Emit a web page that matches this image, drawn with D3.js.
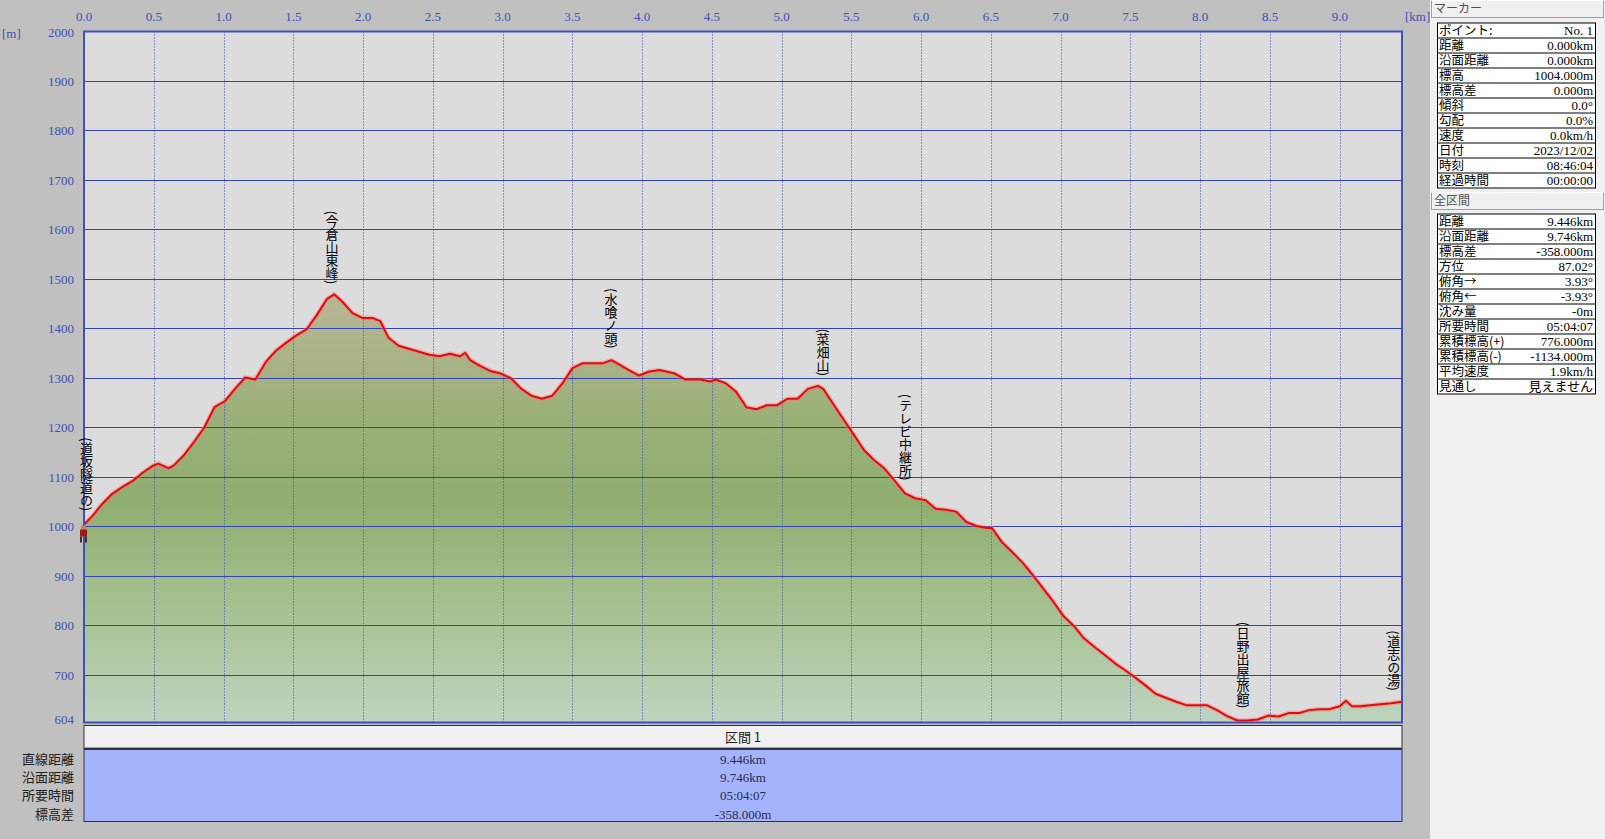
<!DOCTYPE html>
<html>
<head>
<meta charset="utf-8">
<script src="https://cdn.jsdelivr.net/npm/d3@7"></script>
<style>
  body { margin: 0; background: #c0c0c0; overflow: hidden; }
  text { font-family: "Liberation Serif", "Noto Sans CJK JP", serif; }
  .jp { font-family: "Noto Sans CJK JP", sans-serif; }
</style>
</head>
<body>
<script>
// elevation profile (km, m)
const dist = [0.000, 0.056, 0.129, 0.202, 0.276, 0.349, 0.422, 0.495, 0.532, 0.606, 0.642, 0.716, 0.789, 0.862, 0.935,
  1.009, 1.082, 1.155, 1.228, 1.302, 1.375, 1.448, 1.522, 1.595, 1.668, 1.742, 1.793, 1.852, 1.925, 1.998,
  2.071, 2.123, 2.181, 2.255, 2.328, 2.401, 2.475, 2.548, 2.622, 2.695, 2.732, 2.768, 2.842, 2.915, 2.988,
  3.062, 3.135, 3.208, 3.281, 3.355, 3.428, 3.501, 3.575, 3.648, 3.721, 3.780, 3.831, 3.905, 3.978,
  4.051, 4.125, 4.235, 4.308, 4.418, 4.491, 4.528, 4.601, 4.674, 4.748, 4.821, 4.894, 4.968,
  5.041, 5.114, 5.188, 5.261, 5.298, 5.371, 5.444, 5.518, 5.591, 5.664, 5.737, 5.811, 5.884, 5.957,
  6.031, 6.104, 6.177, 6.251, 6.324, 6.397, 6.471, 6.507, 6.580, 6.654, 6.727, 6.800, 6.874, 6.947,
  7.020, 7.094, 7.167, 7.240, 7.314, 7.387, 7.460, 7.534, 7.607, 7.680, 7.753, 7.827, 7.900, 7.973,
  8.047, 8.120, 8.193, 8.267, 8.340, 8.413, 8.487, 8.560, 8.633, 8.707, 8.780, 8.853, 8.927,
  9.000, 9.044, 9.088, 9.147, 9.220, 9.293, 9.367, 9.446];
const elev = [1004, 1020, 1045, 1066, 1080, 1092, 1109, 1123, 1127, 1118, 1123, 1144, 1171, 1200, 1241,
  1253, 1278, 1301, 1297, 1332, 1355, 1371, 1386, 1398, 1427, 1460, 1469, 1454, 1431, 1421,
  1421, 1415, 1382, 1365, 1359, 1353, 1347, 1344, 1349, 1344, 1351, 1336, 1324, 1314, 1309,
  1299, 1278, 1264, 1258, 1264, 1289, 1320, 1330, 1330, 1330, 1336, 1328, 1316, 1305,
  1313, 1316, 1309, 1297, 1297, 1293, 1297, 1289, 1272, 1241, 1237, 1245, 1245,
  1258, 1258, 1278, 1284, 1278, 1247, 1216, 1185, 1154, 1134, 1117, 1092, 1067, 1057,
  1053, 1036, 1034, 1030, 1009, 1001, 997, 997, 968, 948, 927, 902, 875, 848,
  819, 799, 774, 757, 741, 724, 710, 695, 679, 662, 654, 646, 639, 639,
  639, 629, 617, 608, 608, 610, 618, 616, 623, 623, 629, 631, 631,
  637, 648, 637, 637, 639, 641, 643, 646];

const xTicks = [0, 0.5, 1, 1.5, 2, 2.5, 3, 3.5, 4, 4.5, 5, 5.5, 6, 6.5, 7, 7.5, 8, 8.5, 9];
const yTicks = [2000, 1900, 1800, 1700, 1600, 1500, 1400, 1300, 1200, 1100, 1000, 900, 800, 700, 604];

const wpNames = ['(道坂隧道の)', '(今倉山東峰)', '(水喰ノ頭)', '(菜畑山)', '(テレビ中継所)', '(日野出屋旅館)', '(道志の湯)'];
const wpKm = [0.01, 1.77, 3.77, 5.29, 5.88, 8.30, 9.38];

const markerLabels = ['ポイント:', '距離', '沿面距離', '標高', '標高差', '傾斜', '勾配', '速度', '日付', '時刻', '経過時間'];
const markerValues = ['No. 1', '0.000km', '0.000km', '1004.000m', '0.000m', '0.0°', '0.0%', '0.0km/h', '2023/12/02', '08:46:04', '00:00:00'];
const totalLabels = ['距離', '沿面距離', '標高差', '方位', '俯角→', '俯角←', '沈み量', '所要時間', '累積標高(+)', '累積標高(-)', '平均速度', '見通し'];
const totalValues = ['9.446km', '9.746km', '-358.000m', '87.02°', '3.93°', '-3.93°', '-0m', '05:04:07', '776.000m', '-1134.000m', '1.9km/h', '見えません'];

const sectionName = '区間 1';
const sectionLabels = ['直線距離', '沿面距離', '所要時間', '標高差'];
const sectionValues = ['9.446km', '9.746km', '05:04:07', '-358.000m'];

function draw() {
  const W = 1605, H = 839;
  const blue = '#3444b4', tickBlue = '#3f51b5';
  const svg = d3.select('body').append('svg').attr('width', W).attr('height', H);

  const left = 84, right = 1402, top = 31.5, bottom = 722.5;
  const x = d3.scaleLinear().domain([0, 9.446]).range([left, right]);
  const y = d3.scaleLinear().domain([604, 2000]).range([bottom, top]);

  // plot background
  svg.append('rect').attr('x', left).attr('y', top).attr('width', right - left).attr('height', bottom - top)
    .attr('fill', '#dcdcdc');

  // gradient for the area
  const grad = svg.append('defs').append('linearGradient').attr('id', 'g')
    .attr('gradientUnits', 'userSpaceOnUse').attr('x1', 0).attr('x2', 0)
    .attr('y1', y(1500)).attr('y2', y(604));
  [[0, '#bcb898'], [0.3, '#9cb07a'], [0.5, '#8fae70'], [0.75, '#a6c292'], [1, '#bed4bf']]
    .forEach(s => grad.append('stop').attr('offset', s[0]).attr('stop-color', s[1]));

  const pts = dist.map((d, i) => [d, elev[i]]);
  svg.append('path').datum(pts)
    .attr('d', d3.area().x(d => x(d[0])).y0(bottom).y1(d => y(d[1])))
    .attr('fill', 'url(#g)');

  // grid
  svg.selectAll('.hg').data(yTicks.filter(t => t !== 604 && t !== 2000)).enter().append('line')
    .attr('x1', left).attr('x2', right).attr('y1', d => Math.round(y(d)) + 0.5).attr('y2', d => Math.round(y(d)) + 0.5)
    .attr('stroke', blue).attr('stroke-width', 1);
  svg.selectAll('.vg').data(xTicks.filter(t => t > 0)).enter().append('line')
    .attr('y1', top).attr('y2', bottom).attr('x1', d => Math.round(x(d)) + 0.5).attr('x2', d => Math.round(x(d)) + 0.5)
    .attr('stroke', blue).attr('stroke-width', 1).attr('stroke-dasharray', '1,2');

  // profile line
  const line = d3.line().x(d => x(d[0])).y(d => y(d[1]));
  svg.append('path').datum(pts).attr('d', line).attr('fill', 'none')
    .attr('stroke', '#ff7070').attr('stroke-opacity', 0.45).attr('stroke-width', 4.5).attr('stroke-linejoin', 'round');
  svg.append('path').datum(pts).attr('d', line).attr('fill', 'none')
    .attr('stroke', '#e00c0c').attr('stroke-width', 2).attr('stroke-linejoin', 'round');

  // border
  svg.append('rect').attr('x', left).attr('y', top).attr('width', right - left).attr('height', bottom - top)
    .attr('fill', 'none').attr('stroke', '#4050b8').attr('stroke-width', 2);

  // axes labels
  svg.selectAll('.xt').data(xTicks).enter().append('text')
    .attr('x', d => x(d)).attr('y', 21).attr('text-anchor', 'middle')
    .attr('font-size', 13).attr('fill', tickBlue).text(d => d.toFixed(1));
  svg.selectAll('.yt').data(yTicks).enter().append('text')
    .attr('x', 74).attr('y', d => d === 604 ? y(d) + 1 : y(d) + 5).attr('text-anchor', 'end')
    .attr('font-size', 13).attr('fill', tickBlue).text(d => d);
  svg.append('text').attr('x', 2).attr('y', 38).attr('font-size', 13).attr('fill', tickBlue).text('[m]');
  svg.append('text').attr('x', 1405).attr('y', 21).attr('font-size', 13).attr('fill', tickBlue).text('[km]');

  // waypoint labels (vertical)
  const interp = km => {
    const i = d3.bisector(d => d).left(dist, km);
    if (i <= 0) return elev[0];
    const t = (km - dist[i - 1]) / (dist[i] - dist[i - 1]);
    return elev[i - 1] + t * (elev[i] - elev[i - 1]);
  };
  svg.selectAll('.wp').data(wpNames).enter().append('text')
    .attr('class', 'jp')
    .attr('x', (d, i) => x(wpKm[i]) + 1)
    .attr('y', (d, i) => y(interp(wpKm[i])) - 12)
    .attr('text-anchor', 'end')
    .style('writing-mode', 'vertical-rl')
    .attr('font-size', 13).attr('fill', '#000').text(d => d);

  // hiker marker at start point
  const hx = x(dist[0]), hy = y(elev[0]);
  const hiker = svg.append('g').attr('transform', `translate(${hx},${hy})`);
  hiker.append('rect').attr('x', -3).attr('y', 1).attr('width', 5).attr('height', 4).attr('fill', '#d08050');
  hiker.append('rect').attr('x', -4).attr('y', 5).attr('width', 7).attr('height', 7).attr('fill', '#a01818');
  hiker.append('rect').attr('x', -4).attr('y', 12).attr('width', 2).attr('height', 6).attr('fill', '#403020');
  hiker.append('rect').attr('x', 1).attr('y', 12).attr('width', 2).attr('height', 6).attr('fill', '#403020');

  // section table at the bottom
  svg.append('rect').attr('x', left).attr('y', 725.5).attr('width', right - left).attr('height', 23)
    .attr('fill', '#f0f0f0').attr('stroke', '#303040').attr('stroke-width', 1);
  svg.append('line').attr('x1', left + 1).attr('x2', right - 1).attr('y1', 747.5).attr('y2', 747.5)
    .attr('stroke', '#a0a0a0');
  svg.append('text').attr('class', 'jp').attr('x', (left + right) / 2).attr('y', 742)
    .attr('text-anchor', 'middle').attr('font-size', 13).attr('fill', '#202020').text(sectionName);
  svg.append('rect').attr('x', left).attr('y', 749.5).attr('width', right - left).attr('height', 72)
    .attr('fill', '#a4b4fc').attr('stroke', '#303040').attr('stroke-width', 1);
  svg.selectAll('.sl').data(sectionLabels).enter().append('text').attr('class', 'jp')
    .attr('x', 74).attr('y', (d, i) => 764 + i * 18.2).attr('text-anchor', 'end')
    .attr('font-size', 13).attr('fill', '#202020').text(d => d);
  svg.selectAll('.sv').data(sectionValues).enter().append('text')
    .attr('x', (left + right) / 2).attr('y', (d, i) => 764 + i * 18.2).attr('text-anchor', 'middle')
    .attr('font-size', 13).attr('fill', '#2a2a50').text(d => d);

  // right panel
  svg.append('rect').attr('x', 1430).attr('y', 0).attr('width', W - 1430).attr('height', H).attr('fill', '#f0f0f0');

  function header(yy, label) {
    svg.append('rect').attr('x', 1431.5).attr('y', yy + 0.5).attr('width', 172).attr('height', 17)
      .attr('fill', '#f0f0f0').attr('stroke', '#a0a0a0');
    svg.append('line').attr('x1', 1431.5).attr('x2', 1603.5).attr('y1', yy + 0.5).attr('y2', yy + 0.5).attr('stroke', '#fff');
    svg.append('text').attr('class', 'jp').attr('x', 1434).attr('y', yy + 13).attr('font-size', 12)
      .attr('fill', '#505050').text(label);
  }
  function table(y0, labels, values) {
    const g = svg.append('g');
    const rh = 15, x0 = 1437, x1 = 1595;
    g.append('rect').attr('x', x0 + 0.5).attr('y', y0 + 0.5).attr('width', x1 - x0).attr('height', rh * labels.length)
      .attr('fill', '#fff').attr('stroke', '#000');
    g.selectAll('line').data(labels.slice(1)).enter().append('line')
      .attr('x1', x0).attr('x2', x1).attr('y1', (d, i) => y0 + (i + 1) * rh + 0.5).attr('y2', (d, i) => y0 + (i + 1) * rh + 0.5)
      .attr('stroke', '#000');
    g.selectAll('.l').data(labels).enter().append('text').attr('class', 'jp')
      .attr('x', x0 + 2).attr('y', (d, i) => y0 + i * rh + 12).attr('font-size', 12.5).attr('fill', '#000').text(d => d);
    g.selectAll('.v').data(values).enter().append('text')
      .attr('x', x1 - 2).attr('y', (d, i) => y0 + i * rh + 12).attr('text-anchor', 'end')
      .attr('font-size', 13).attr('fill', '#000').text(d => d);
  }
  header(0, 'マーカー');
  table(22.5, markerLabels, markerValues);
  header(192, '全区間');
  table(213.5, totalLabels, totalValues);
}

document.addEventListener('DOMContentLoaded', draw);
</script>
</body>
</html>
